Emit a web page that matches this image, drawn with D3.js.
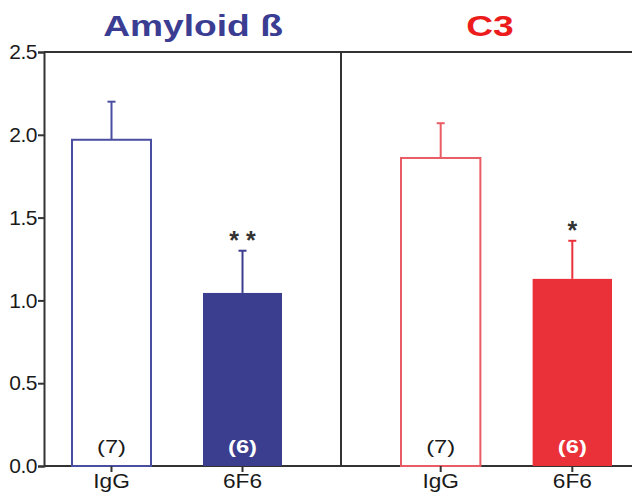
<!DOCTYPE html>
<html>
<head>
<meta charset="utf-8">
<script src="https://cdn.jsdelivr.net/npm/d3@7"></script>
<style>
    body { margin: 0; background: #fff; }
    text { font-family: "Liberation Sans", Arial, sans-serif; }
</style>
</head>
<body>
<svg id="chart" width="632" height="496"></svg>
<script>
// Data
const panels = ["Amyloid ß", "C3"];
const groups = ["IgG", "6F6"];
const meanValues = [[1.97, 1.045], [1.86, 1.13]];
const errorTops = [[2.20, 1.30], [2.07, 1.36]];
const counts = [["(7)", "(6)"], ["(7)", "(6)"]];
const stars = [["", "* *"], ["", "*"]];
const yTicks = [0, 0.5, 1.0, 1.5, 2.0, 2.5];

const colors = {
    dark: ["#3b3d8f", "#ea3039"],
    title: ["#3a3d92", "#ec1c1c"],
    outline: ["#4a4ea0", "#ea5c63"]
};

const svg = d3.select("#chart");
const axisColor = "#333";

const y = d3.scaleLinear().domain([0, 2.5]).range([466, 52]);

// panel extents and band ranges for the bars
const panelX = [[44, 341], [341, 632]];
const bandRanges = [[72, 282], [401, 612]];
const titleX = [193, 490];

// the original lettering is a bit wider than Arial, stretch it
function stretched(sel, cx, cy, sx) {
    return sel.attr("transform", `translate(${cx},${cy}) scale(${sx},1)`);
}

// frame: top and bottom lines, panel divider
svg.append("line")
    .attr("x1", 44).attr("x2", 632)
    .attr("y1", y(2.5)).attr("y2", y(2.5))
    .attr("stroke", axisColor).attr("stroke-width", 2);
svg.append("line")
    .attr("x1", 44).attr("x2", 632)
    .attr("y1", y(0)).attr("y2", y(0))
    .attr("stroke", axisColor).attr("stroke-width", 2);
svg.append("line")
    .attr("x1", panelX[1][0]).attr("x2", panelX[1][0])
    .attr("y1", y(2.5)).attr("y2", y(0))
    .attr("stroke", axisColor).attr("stroke-width", 2);

// y axis
const yAxis = svg.append("g")
    .attr("transform", "translate(44,0)")
    .call(d3.axisLeft(y).tickValues(yTicks).tickFormat(d3.format(".1f")).tickSize(6).tickPadding(1));
yAxis.select(".domain").attr("stroke", axisColor).attr("stroke-width", 2);
yAxis.selectAll(".tick line").attr("stroke", axisColor).attr("stroke-width", 2);
yAxis.selectAll(".tick text")
    .attr("fill", "#1a1a1a")
    .attr("font-size", "21px")
    .style("letter-spacing", "-0.5px")
    .attr("font-family", "Liberation Sans, Arial, sans-serif");

panels.forEach((name, p) => {
    const x = d3.scaleBand()
        .domain(groups)
        .range(bandRanges[p])
        .paddingInner(0.397)
        .paddingOuter(0);
    const cx = d => x(d.grp) + x.bandwidth() / 2;

    const g = svg.append("g").classed("panel", true);

    // title
    g.append("text")
        .call(stretched, titleX[p], 36, 1.24)
        .attr("text-anchor", "middle")
        .attr("font-size", "30px")
        .attr("font-weight", "bold")
        .attr("fill", colors.title[p])
        .text(name);

    const rows = groups.map((grp, i) => ({
        grp, i,
        mean: meanValues[p][i],
        err: errorTops[p][i],
        n: counts[p][i],
        star: stars[p][i]
    }));
    const lineColor = d => d.i === 0 ? colors.outline[p] : colors.dark[p];

    // error bars (behind bars)
    g.selectAll("line.err")
        .data(rows)
        .join("line")
        .classed("err", true)
        .attr("x1", cx)
        .attr("x2", cx)
        .attr("y1", d => y(d.mean))
        .attr("y2", d => y(d.err))
        .attr("stroke", lineColor)
        .attr("stroke-width", 2);
    g.selectAll("line.cap")
        .data(rows)
        .join("line")
        .classed("cap", true)
        .attr("x1", d => cx(d) - 4)
        .attr("x2", d => cx(d) + 4)
        .attr("y1", d => y(d.err))
        .attr("y2", d => y(d.err))
        .attr("stroke", lineColor)
        .attr("stroke-width", 2);

    // bars
    g.selectAll("rect.bar")
        .data(rows)
        .join("rect")
        .classed("bar", true)
        .attr("x", d => x(d.grp))
        .attr("y", d => y(d.mean))
        .attr("width", x.bandwidth())
        .attr("height", d => y(0) - y(d.mean))
        .attr("fill", d => d.i === 0 ? "#fff" : colors.dark[p])
        .attr("stroke", d => d.i === 0 ? colors.outline[p] : "none")
        .attr("stroke-width", 2);

    // n labels
    g.selectAll("text.n")
        .data(rows)
        .join("text")
        .classed("n", true)
        .each(function(d) { stretched(d3.select(this), cx(d), 453, 1.25); })
        .attr("text-anchor", "middle")
        .attr("font-size", "19px")
        .attr("font-weight", d => d.i === 0 ? "normal" : "bold")
        .attr("fill", d => d.i === 0 ? "#1a1a1a" : "#fff")
        .text(d => d.n);

    // significance stars
    g.selectAll("text.star")
        .data(rows.filter(d => d.star))
        .join("text")
        .classed("star", true)
        .attr("x", cx)
        .attr("y", d => y(d.err) - 2)
        .attr("text-anchor", "middle")
        .attr("font-size", "25px")
        .attr("font-weight", "bold")
        .attr("fill", "#333")
        .text(d => d.star);

    // x axis ticks and labels
    const xAxis = g.append("g")
        .attr("transform", `translate(0,${y(0)})`)
        .call(d3.axisBottom(x).tickSize(6).tickPadding(1));
    xAxis.select(".domain").remove();
    xAxis.selectAll(".tick line").attr("stroke", axisColor).attr("stroke-width", 2);
    xAxis.selectAll(".tick text")
        .attr("fill", "#1a1a1a")
        .attr("font-size", "21px")
        .attr("transform", "scale(1.08,1)")
        .attr("font-family", "Liberation Sans, Arial, sans-serif");
});
</script>
</body>
</html>
